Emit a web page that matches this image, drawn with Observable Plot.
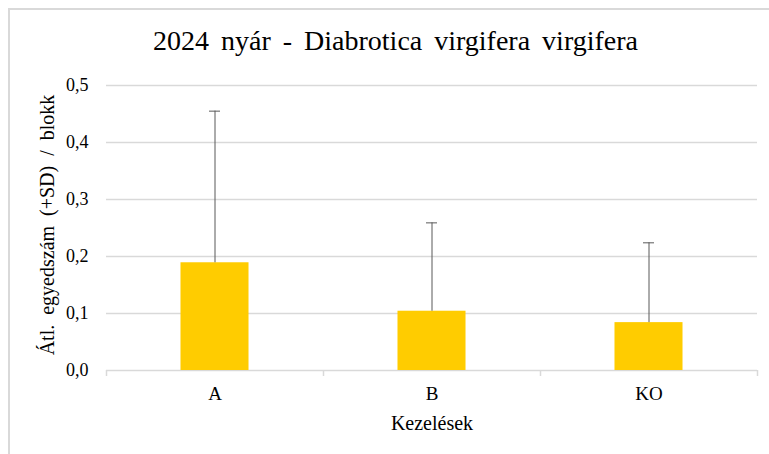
<!DOCTYPE html>
<html>
<head>
<meta charset="utf-8">
<script src="https://cdn.jsdelivr.net/npm/d3@7"></script>
<script src="https://cdn.jsdelivr.net/npm/@observablehq/plot@0.6"></script>
<style>
  html, body { margin: 0; padding: 0; background: #fff; }
  #wrap { position: relative; width: 769px; height: 454px; overflow: hidden; }
  #border { position: absolute; left: 8px; top: 8px; width: 900px; height: 600px;
            border-left: 2px solid #d9d9d9; border-top: 2px solid #d9d9d9; }
  #chart { position: absolute; left: 0; top: 0; }
  #chart svg, #chart svg text { font-family: "Liberation Serif", "Times New Roman", serif !important; }
</style>
</head>
<body>
<div id="wrap"><div id="border"></div><div id="chart"></div></div>
<script>
const title = "2024 nyár - Diabrotica virgifera virgifera";
const yLabel = "Átl. egyedszám (+SD) / blokk";
const xLabel = "Kezelések";
const categories = ["A", "B", "KO"];
const means = [0.189, 0.104, 0.084];
const sds = [0.266, 0.155, 0.140];
const yTicks = [0, 0.1, 0.2, 0.3, 0.4, 0.5];

const gapWidth = 2.19; // Excel gap width (fraction of bar width)
const barFrac = 1 / (1 + gapWidth);
const n = categories.length;
const serif = "Liberation Serif";

const data = categories.map((c, i) => ({cat: c, i, mean: means[i], sd: sds[i]}));
const center = d => d.i + 0.5;
const fmt = v => v.toFixed(1).replace(".", ",");

const chart = Plot.plot({
  width: 769,
  height: 454,
  marginTop: 85,
  marginBottom: 84,
  marginLeft: 106,
  marginRight: 12,
  style: {fontFamily: serif, fontSize: "18px", color: "#000", background: "transparent", overflow: "visible"},
  x: {type: "linear", domain: [0, n], axis: null},
  y: {domain: [0, 0.5], axis: null},
  marks: [
    Plot.gridY(yTicks, {stroke: "#d9d9d9", strokeOpacity: 1, strokeWidth: 1.3}),
    Plot.axisY(yTicks, {tickSize: 0, tickPadding: 18, tickFormat: fmt, fontSize: 18, fontFamily: serif, label: null, fill: "#000"}),
    Plot.axisX(d3.range(n + 1), {tickSize: 6, tickFormat: () => "", stroke: "#d9d9d9", strokeWidth: 1.5, label: null}),
    Plot.axisX(data.map(center), {tickSize: 0, tickPadding: 16, tickFormat: v => categories[Math.floor(v)], fontSize: 19, fontFamily: serif, label: null, fill: "#000"}),
    Plot.rectY(data, {x1: d => center(d) - barFrac / 2, x2: d => center(d) + barFrac / 2, y: "mean", fill: "#ffcc00"}),
    Plot.ruleX(data, {x: center, y1: "mean", y2: d => d.mean + d.sd, stroke: "#595959", strokeWidth: 1}),
    Plot.ruleY(data, {y: d => d.mean + d.sd, x1: center, x2: center, insetLeft: -5.5, insetRight: -5.5, stroke: "#595959", strokeWidth: 1}),
    Plot.text([title], {frameAnchor: "top", textAnchor: "middle", dx: -36.5, dy: -44, fontSize: 28, fontFamily: serif, lineAnchor: "middle", fill: "#000"}),
    Plot.text([yLabel], {frameAnchor: "left", textAnchor: "middle", rotate: -90, dx: -59, dy: -3, fontSize: 20, fontFamily: serif, lineAnchor: "middle", fill: "#000"}),
    Plot.text([xLabel], {frameAnchor: "bottom", textAnchor: "middle", dy: 53, fontSize: 20, fontFamily: serif, lineAnchor: "middle", fill: "#000"})
  ]
});
d3.select(chart).selectAll("text")
  .filter(function() { return this.textContent === title || this.textContent === yLabel; })
  .style("word-spacing", "5px");
document.getElementById("chart").appendChild(chart);
</script>
</body>
</html>
